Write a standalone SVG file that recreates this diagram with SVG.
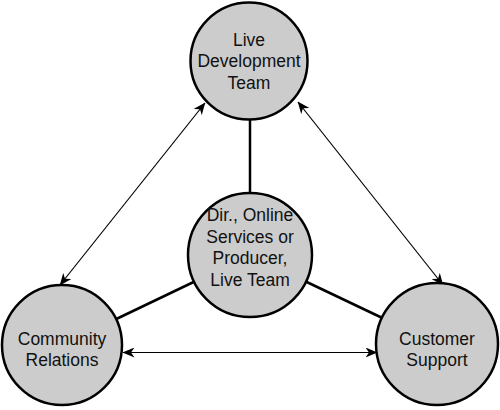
<svg xmlns="http://www.w3.org/2000/svg" width="500" height="410" viewBox="0 0 500 410">
<style>
.node{fill:#cccccc;stroke:#000;stroke-width:2.5}
.t{font-family:"Liberation Sans",Arial,sans-serif;font-size:17.5px;fill:#111;text-anchor:middle}
.thick{stroke:#000;stroke-width:2.5;fill:none}
.thin{stroke:#000;stroke-width:1.2;fill:none;marker-start:url(#ah);marker-end:url(#ah)}
</style>
<defs>
<marker id="ah" viewBox="0 0 12 10" refX="11.5" refY="5" markerWidth="12" markerHeight="10" markerUnits="userSpaceOnUse" orient="auto-start-reverse">
<path d="M0,0 L12,5 L0,10 L3.5,5 Z" fill="#000"/>
</marker>
</defs>
<rect width="500" height="410" fill="#fff"/>
<g id="connectors">
<line class="thick" x1="250" y1="61" x2="250" y2="255"/>
<line class="thick" x1="250" y1="255" x2="62" y2="345"/>
<line class="thick" x1="250" y1="255" x2="437" y2="344"/>
<line class="thin" x1="205" y1="103" x2="60" y2="285"/>
<line class="thin" x1="298" y1="102" x2="443" y2="285"/>
<line class="thin" x1="123" y1="352.5" x2="377" y2="352.5"/>
</g>
<g id="live-dev">
<circle class="node" cx="249" cy="61" r="58.5"/>
<text class="t" x="249" y="45.5">Live</text>
<text class="t" x="249" y="67">Development</text>
<text class="t" x="249" y="88.5">Team</text>
</g>
<g id="director">
<circle class="node" cx="250" cy="255" r="62"/>
<text class="t" x="250" y="221">Dir., Online</text>
<text class="t" x="250" y="242.5">Services or</text>
<text class="t" x="250" y="264">Producer,</text>
<text class="t" x="250" y="285.5">Live Team</text>
</g>
<g id="community">
<circle class="node" cx="62" cy="345" r="60"/>
<text class="t" x="62" y="344.5">Community</text>
<text class="t" x="62" y="365.5">Relations</text>
</g>
<g id="support">
<circle class="node" cx="437" cy="344" r="61"/>
<text class="t" x="437" y="344.5">Customer</text>
<text class="t" x="437" y="365.5">Support</text>
</g>
</svg>
